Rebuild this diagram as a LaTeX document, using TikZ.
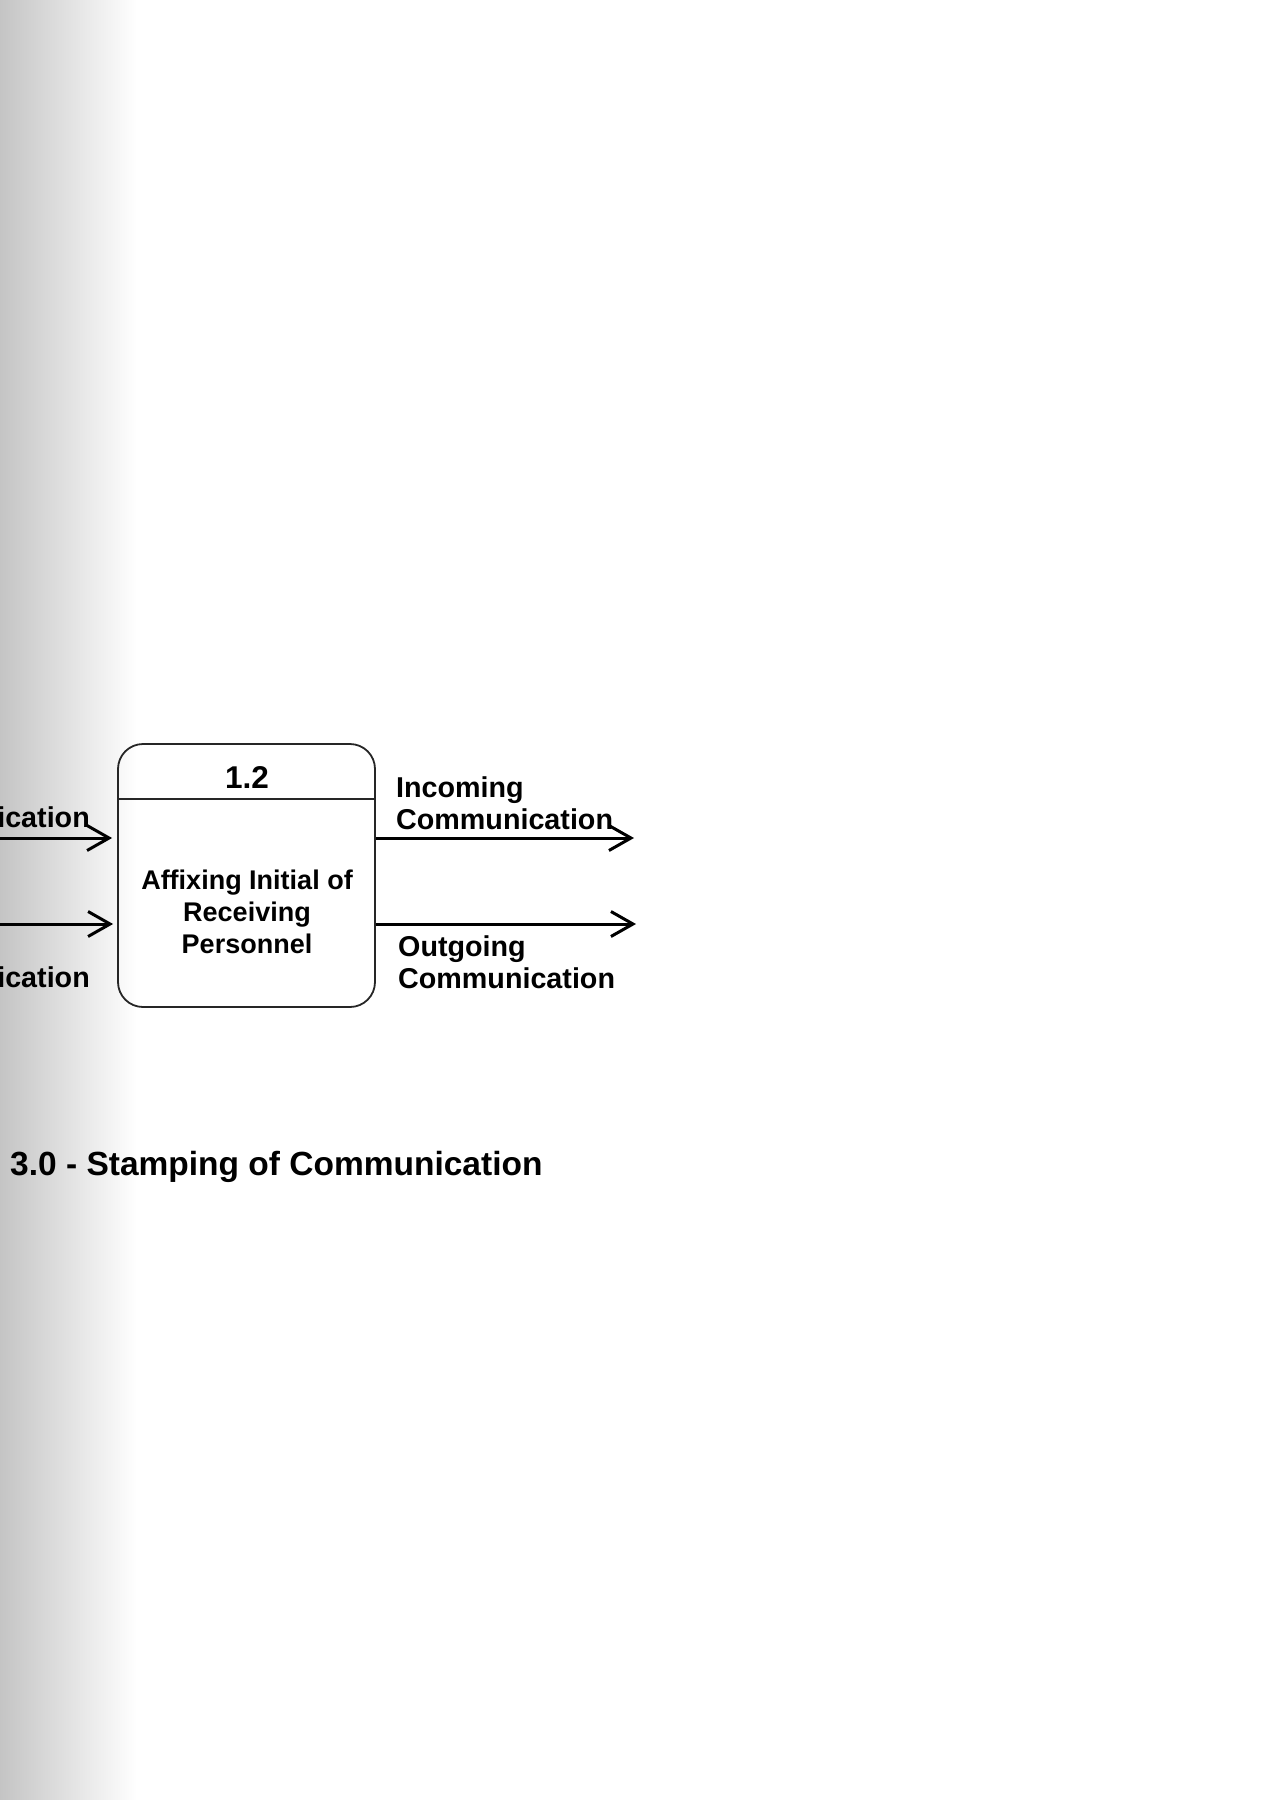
\documentclass[tikz,border=0pt]{standalone}
\usepackage{fontspec}
\newfontfamily\dfont{Liberation Sans Bold}
\usetikzlibrary{arrows.meta}
\begin{document}
\begin{tikzpicture}[x=1pt,y=-1pt,
  flow/.style={line width=3pt, -{Straight Barb[length=22pt,width=25pt,line width=3pt]}},
  boxtxt/.style={font=\dfont\fontsize{27}{32}\selectfont, align=center, inner sep=0pt},
  lab/.style={font=\dfont\fontsize{28.7}{32}\selectfont, align=left, inner sep=0pt, anchor=base west},
  procbox/.style={draw=black!85, line width=1.8pt, rounded corners=25pt, minimum width=257pt, minimum height=263pt, inner sep=0pt}
]
\useasboundingbox (0,0) rectangle (1273,1800);
\shade[left color=black!23, right color=white] (0,0) rectangle (137,1800);

\node[procbox] (p) at (246.5,875.5) {};
\coordinate (dv) at (0,799);
\draw[black!85, line width=1.8pt] (p.west |- dv) -- (p.east |- dv);
\node[font=\dfont\fontsize{31.5}{34}\selectfont, inner sep=0pt, anchor=base] (num) at (247,788) {1.2};
\node[boxtxt, anchor=base] (body) at (247,953) {Affixing Initial of\\Receiving\\Personnel};

\coordinate (l1) at (-10,838);
\coordinate (l2) at (-10,924);
\coordinate (r1) at (634,838);
\coordinate (r2) at (636,924);
\draw[flow, shorten >=5pt] (l1) -- (p.west |- l1);
\draw[flow, shorten >=4pt] (l2) -- (p.west |- l2);
\draw[flow] (p.east |- r1) -- (r1);
\draw[flow] (p.east |- r2) -- (r2);

\node[lab, anchor=base east] (ll1) at (90,827) {ication};
\node[lab, anchor=base east] (ll2) at (90,987) {ication};
\node[lab] (rl1) at (396,829) {Incoming\\Communication};
\node[lab] (rl2) at (398,988) {Outgoing\\Communication};

\node[font=\dfont\fontsize{33.5}{36}\selectfont, inner sep=0pt, anchor=base west] (title) at (10,1175) {3.0 - Stamping of Communication};
\end{tikzpicture}
\end{document}
